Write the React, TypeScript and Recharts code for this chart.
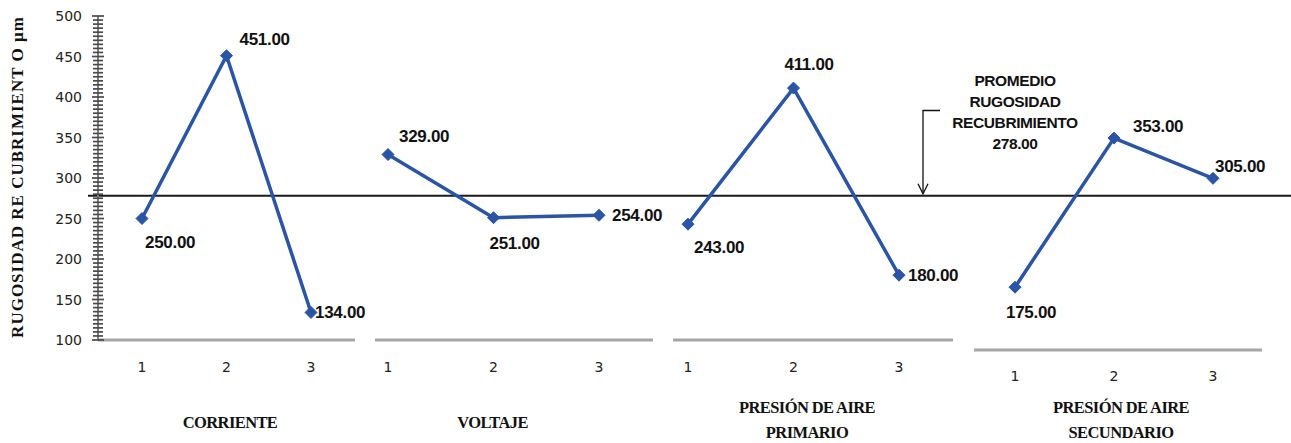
import React from 'react';
import { LineChart, Line, XAxis, YAxis, ReferenceLine, LabelList } from 'recharts';

// Factor levels shared by every panel
const levels = ['1', '2', '3'];

// Mean coating roughness (µm) per factor level
const corriente = [250, 451, 134];
const voltaje = [329, 251, 254];
const presionPrimario = [243, 411, 180];
const presionSecundario = [175, 353, 305];

// Overall mean roughness
const promedio = 278;

// Axis settings
const yDomain: [number, number] = [100, 500];
const yMajorStep = 50;
const yMinorStep = 5;

const BLUE = '#2a55a6';
const SERIF = '"Liberation Serif", "Times New Roman", serif';
const SANS = '"Liberation Sans", Arial, sans-serif';
const TICK_FONT = '"DejaVu Sans", Verdana, sans-serif';

const yTicks: number[] = [];
for (let v = yDomain[0]; v <= yDomain[1]; v += yMinorStep) yTicks.push(v);

const toRows = (values: number[]) => levels.map((level, i) => ({ level, value: values[i] }));

const Diamond = (props: any) => {
  const { cx, cy } = props;
  if (cx == null || cy == null) return null;
  const s = 6;
  return (
    <polygon
      points={`${cx},${cy - s} ${cx + s},${cy} ${cx},${cy + s} ${cx - s},${cy}`}
      fill={BLUE}
      stroke={BLUE}
      strokeWidth={1}
    />
  );
};

const YTick = (props: any) => {
  const { x, y, payload } = props;
  const major = payload.value % yMajorStep === 0;
  const half = major ? 6 : 5;
  return (
    <g>
      <line x1={x - half} x2={x + half} y1={y} y2={y} stroke="#4a4a4a" strokeWidth={1.7} />
      {major && (
        <text x={x - 16} y={y + 5} textAnchor="end" fontSize={14} fontFamily={TICK_FONT} fill="#222">
          {payload.value}
        </text>
      )}
    </g>
  );
};

const makeXTick = (drop: number) => (props: any) => {
  const { x, y, payload } = props;
  return (
    <text x={x} y={y + drop} textAnchor="middle" fontSize={14} fontFamily={TICK_FONT} fill="#222">
      {payload.value}
    </text>
  );
};

const makeValueLabel = (offsets: [number, number][]) => (props: any) => {
  const { x, y, value, index } = props;
  const [dx, dy] = offsets[index] || [0, 0];
  return (
    <text
      x={x + dx}
      y={y + dy + 6}
      textAnchor="start"
      fontSize={17}
      fontWeight="bold"
      fontFamily={SANS}
      fill="#111"
      letterSpacing={-0.3}
    >
      {Number(value).toFixed(2)}
    </text>
  );
};

const makeCategoryLabel = (lines: string[], dx: number, firstBaseline: number) => (props: any) => {
  const vb = props.viewBox || {};
  const cx = vb.x + vb.width / 2 + dx;
  return (
    <text
      textAnchor="middle"
      fontSize={16.5}
      fontWeight="bold"
      fontFamily={SERIF}
      fill="#111"
      letterSpacing={-0.6}
    >
      {lines.map((l, i) => (
        <tspan key={l} x={cx} y={firstBaseline + i * 25}>
          {l}
        </tspan>
      ))}
    </text>
  );
};

const YTitle = () => (
  <text
    transform="translate(23, 177) rotate(-90)"
    textAnchor="middle"
    fontSize={17}
    fontWeight="bold"
    fontFamily={SERIF}
    fill="#111"
    letterSpacing={1}
  >
    RUGOSIDAD RE CUBRIMIENT O µm
  </text>
);

const AverageNote = (props: any) => {
  const vb = props.viewBox || {};
  const ly = vb.y;
  const ax = 923;
  const top = 110.5;
  const lines = ['PROMEDIO', 'RUGOSIDAD', 'RECUBRIMIENTO', promedio.toFixed(2)];
  const baselines = [85.5, 106.5, 127.5, 149];
  return (
    <g>
      <path d={`M940,${top} H${ax} V${ly - 2}`} fill="none" stroke="#111" strokeWidth={1.3} />
      <path d={`M${ax - 5},${ly - 12} L${ax},${ly - 2} L${ax + 5},${ly - 12}`} fill="none" stroke="#111" strokeWidth={1.3} />
      <text textAnchor="middle" fontSize={15.5} fontWeight="bold" fontFamily={SANS} fill="#111" letterSpacing={-0.4}>
        {lines.map((l, i) => (
          <tspan key={l} x={1015} y={baselines[i]}>
            {l}
          </tspan>
        ))}
      </text>
    </g>
  );
};

type PanelProps = {
  values: number[];
  left: number;
  width: number;
  margin: { top: number; right: number; left: number; bottom: number };
  axisHeight: number;
  padding: { left: number; right: number };
  tickDrop: number;
  labelOffsets: [number, number][];
  title: string[];
  titleDx: number;
  titleBaseline: number;
  showY?: boolean;
};

const Panel = (p: PanelProps) => (
  <div style={{ position: 'absolute', left: p.left, top: 0 }}>
    <LineChart width={p.width} height={443} data={toRows(p.values)} margin={p.margin} style={{ overflow: 'visible' }}>
      <XAxis
        dataKey="level"
        height={p.axisHeight}
        padding={p.padding}
        axisLine={{ stroke: '#a6a6a6', strokeWidth: 3 }}
        tickLine={false}
        tickSize={0}
        tickMargin={0}
        tick={makeXTick(p.tickDrop)}
        label={{ content: makeCategoryLabel(p.title, p.titleDx, p.titleBaseline) }}
      />
      <YAxis
        hide={!p.showY}
        width={98}
        type="number"
        domain={yDomain}
        ticks={yTicks}
        interval={0}
        allowDataOverflow
        axisLine={{ stroke: '#7f7f7f', strokeWidth: 2 }}
        tickLine={false}
        tickSize={0}
        tickMargin={0}
        tick={YTick}
        label={p.showY ? { content: YTitle } : undefined}
      />
      <Line
        type="linear"
        dataKey="value"
        stroke={BLUE}
        strokeWidth={3.5}
        dot={<Diamond />}
        activeDot={false}
        isAnimationActive={false}
      >
        <LabelList dataKey="value" content={makeValueLabel(p.labelOffsets)} />
      </Line>
    </LineChart>
  </div>
);

export default function App() {
  return (
    <div style={{ position: 'absolute', left: 0, top: 0, width: 1291, height: 443, background: '#fff', overflow: 'hidden' }}>
      {/* overall mean line spanning every panel */}
      <div style={{ position: 'absolute', left: 0, top: 0 }}>
        <LineChart width={1291} height={443} data={toRows(corriente)} margin={{ top: 16, right: 0, left: 88, bottom: 103 }} style={{ overflow: 'visible' }}>
          <XAxis dataKey="level" hide />
          <YAxis hide type="number" domain={yDomain} allowDataOverflow />
          <ReferenceLine y={promedio} stroke="#1a1a1a" strokeWidth={2} label={{ content: AverageNote }} />
        </LineChart>
      </div>

      <Panel
        values={corriente}
        left={0}
        width={375}
        margin={{ top: 16, right: 20, left: 0, bottom: 0 }}
        axisHeight={103}
        padding={{ left: 44, right: 44 }}
        tickDrop={32}
        labelOffsets={[[3, 23], [13, -17], [4, 0]]}
        title={['CORRIENTE']}
        titleDx={3.5}
        titleBaseline={427.5}
        showY
      />
      <Panel
        values={voltaje}
        left={360}
        width={320}
        margin={{ top: 16, right: 27, left: 15, bottom: 0 }}
        axisHeight={103}
        padding={{ left: 13, right: 54 }}
        tickDrop={32}
        labelOffsets={[[11, -19], [-4, 25], [13, 0]]}
        title={['VOLTAJE']}
        titleDx={-21.5}
        titleBaseline={427.5}
      />
      <Panel
        values={presionPrimario}
        left={660}
        width={310}
        margin={{ top: 16, right: 17, left: 13, bottom: 0 }}
        axisHeight={103}
        padding={{ left: 15, right: 54 }}
        tickDrop={32}
        labelOffsets={[[6, 23], [-9, -24], [9, 0]]}
        title={['PRESIÓN DE AIRE', 'PRIMARIO']}
        titleDx={-6}
        titleBaseline={412.5}
      />
      <Panel
        values={presionSecundario}
        left={960}
        width={331}
        margin={{ top: 15, right: 29, left: 14, bottom: 0 }}
        axisHeight={93}
        padding={{ left: 41, right: 49 }}
        tickDrop={31}
        labelOffsets={[[-9, 25], [19, -12], [2, -12]]}
        title={['PRESIÓN DE AIRE', 'SECUNDARIO']}
        titleDx={3}
        titleBaseline={412.5}
      />
    </div>
  );
}
